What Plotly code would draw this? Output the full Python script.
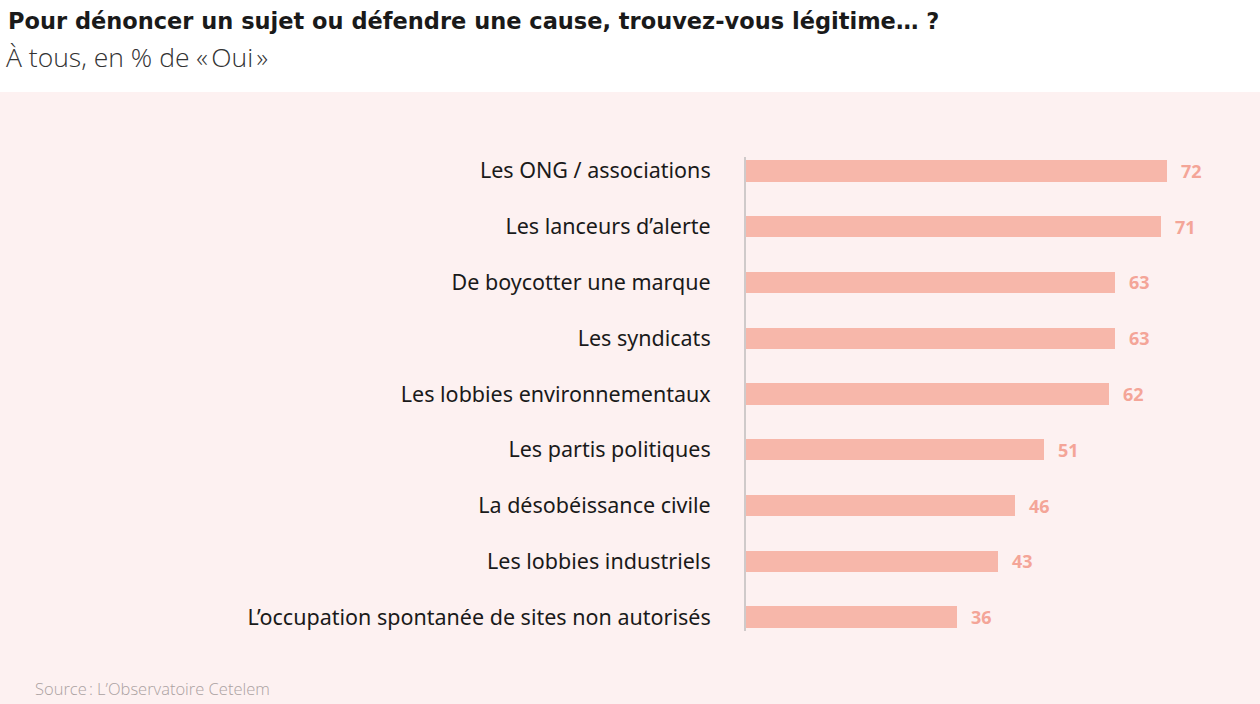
import plotly.graph_objects as go

categories = [
    "Les ONG / associations",
    "Les lanceurs d\u2019alerte",
    "De boycotter une marque",
    "Les syndicats",
    "Les lobbies environnementaux",
    "Les partis politiques",
    "La d\u00e9sob\u00e9issance civile",
    "Les lobbies industriels",
    "L\u2019occupation spontan\u00e9e de sites non autoris\u00e9s",
]
values = [72, 71, 63, 63, 62, 51, 46, 43, 36]

W, H = 1260, 704
L, R, T, B = 746, 40, 157, 73
pw, ph = W - L - R, H - T - B

def px_x(x):
    return (x - L) / pw

def px_y(y):
    return (H - B - y) / ph

PINK = "#fdf1f1"
BAR = "#f7b7aa"
VAL = "#f4a598"

fig = go.Figure()
fig.add_trace(go.Bar(
    x=values, y=categories, orientation="h",
    marker=dict(color=BAR, line=dict(width=0)),
    width=0.38, hoverinfo="skip",
))

for c, v in zip(categories, values):
    fig.add_annotation(x=v, y=c, text=f"<b>{v}</b>", showarrow=False,
                       xanchor="left", xshift=12,
                       font=dict(family="Noto Sans", size=18, color=VAL))

fig.add_shape(type="rect", xref="paper", yref="paper",
              x0=px_x(0), x1=px_x(W), y0=px_y(92), y1=px_y(0),
              fillcolor="white", line=dict(width=0), layer="below")

fig.add_annotation(xref="paper", yref="paper", x=px_x(6), y=px_y(21),
                   xanchor="left", yanchor="middle", showarrow=False,
                   text="<b>Pour d\u00e9noncer un sujet ou d\u00e9fendre une cause, trouvez-vous l\u00e9gitime\u2026 ?</b>",
                   font=dict(family="DejaVu Sans", size=22.5, color="#1a1a1a"))
fig.add_annotation(xref="paper", yref="paper", x=px_x(4), y=px_y(57),
                   xanchor="left", yanchor="middle", showarrow=False,
                   text="\u00c0 tous, en % de \u00ab\u202fOui\u202f\u00bb",
                   font=dict(family="Open Sans", size=26.5, color="#333333", weight=300))
fig.add_annotation(xref="paper", yref="paper", x=px_x(33), y=px_y(688),
                   xanchor="left", yanchor="middle", showarrow=False,
                   text="Source\u202f: L\u2019Observatoire Cetelem",
                   font=dict(family="Open Sans", size=16.5, color="#aba1a1", weight=300))

fig.update_layout(
    width=W, height=H,
    margin=dict(l=L, r=R, t=T, b=B, pad=0),
    paper_bgcolor=PINK, plot_bgcolor=PINK,
    showlegend=False,
    bargap=0,
    xaxis=dict(range=[0, 81], visible=False, fixedrange=True),
    yaxis=dict(
        categoryorder="array", categoryarray=categories,
        autorange=False, range=[8.25, -0.25],
        showgrid=False, zeroline=False,
        showline=True, linecolor="#cfcaca", linewidth=2,
        ticks="", ticklabelstandoff=29,
        tickfont=dict(family="Noto Sans", size=21.5, color="#1a1a1a"),
    ),
)

fig.write_html("out.html")
